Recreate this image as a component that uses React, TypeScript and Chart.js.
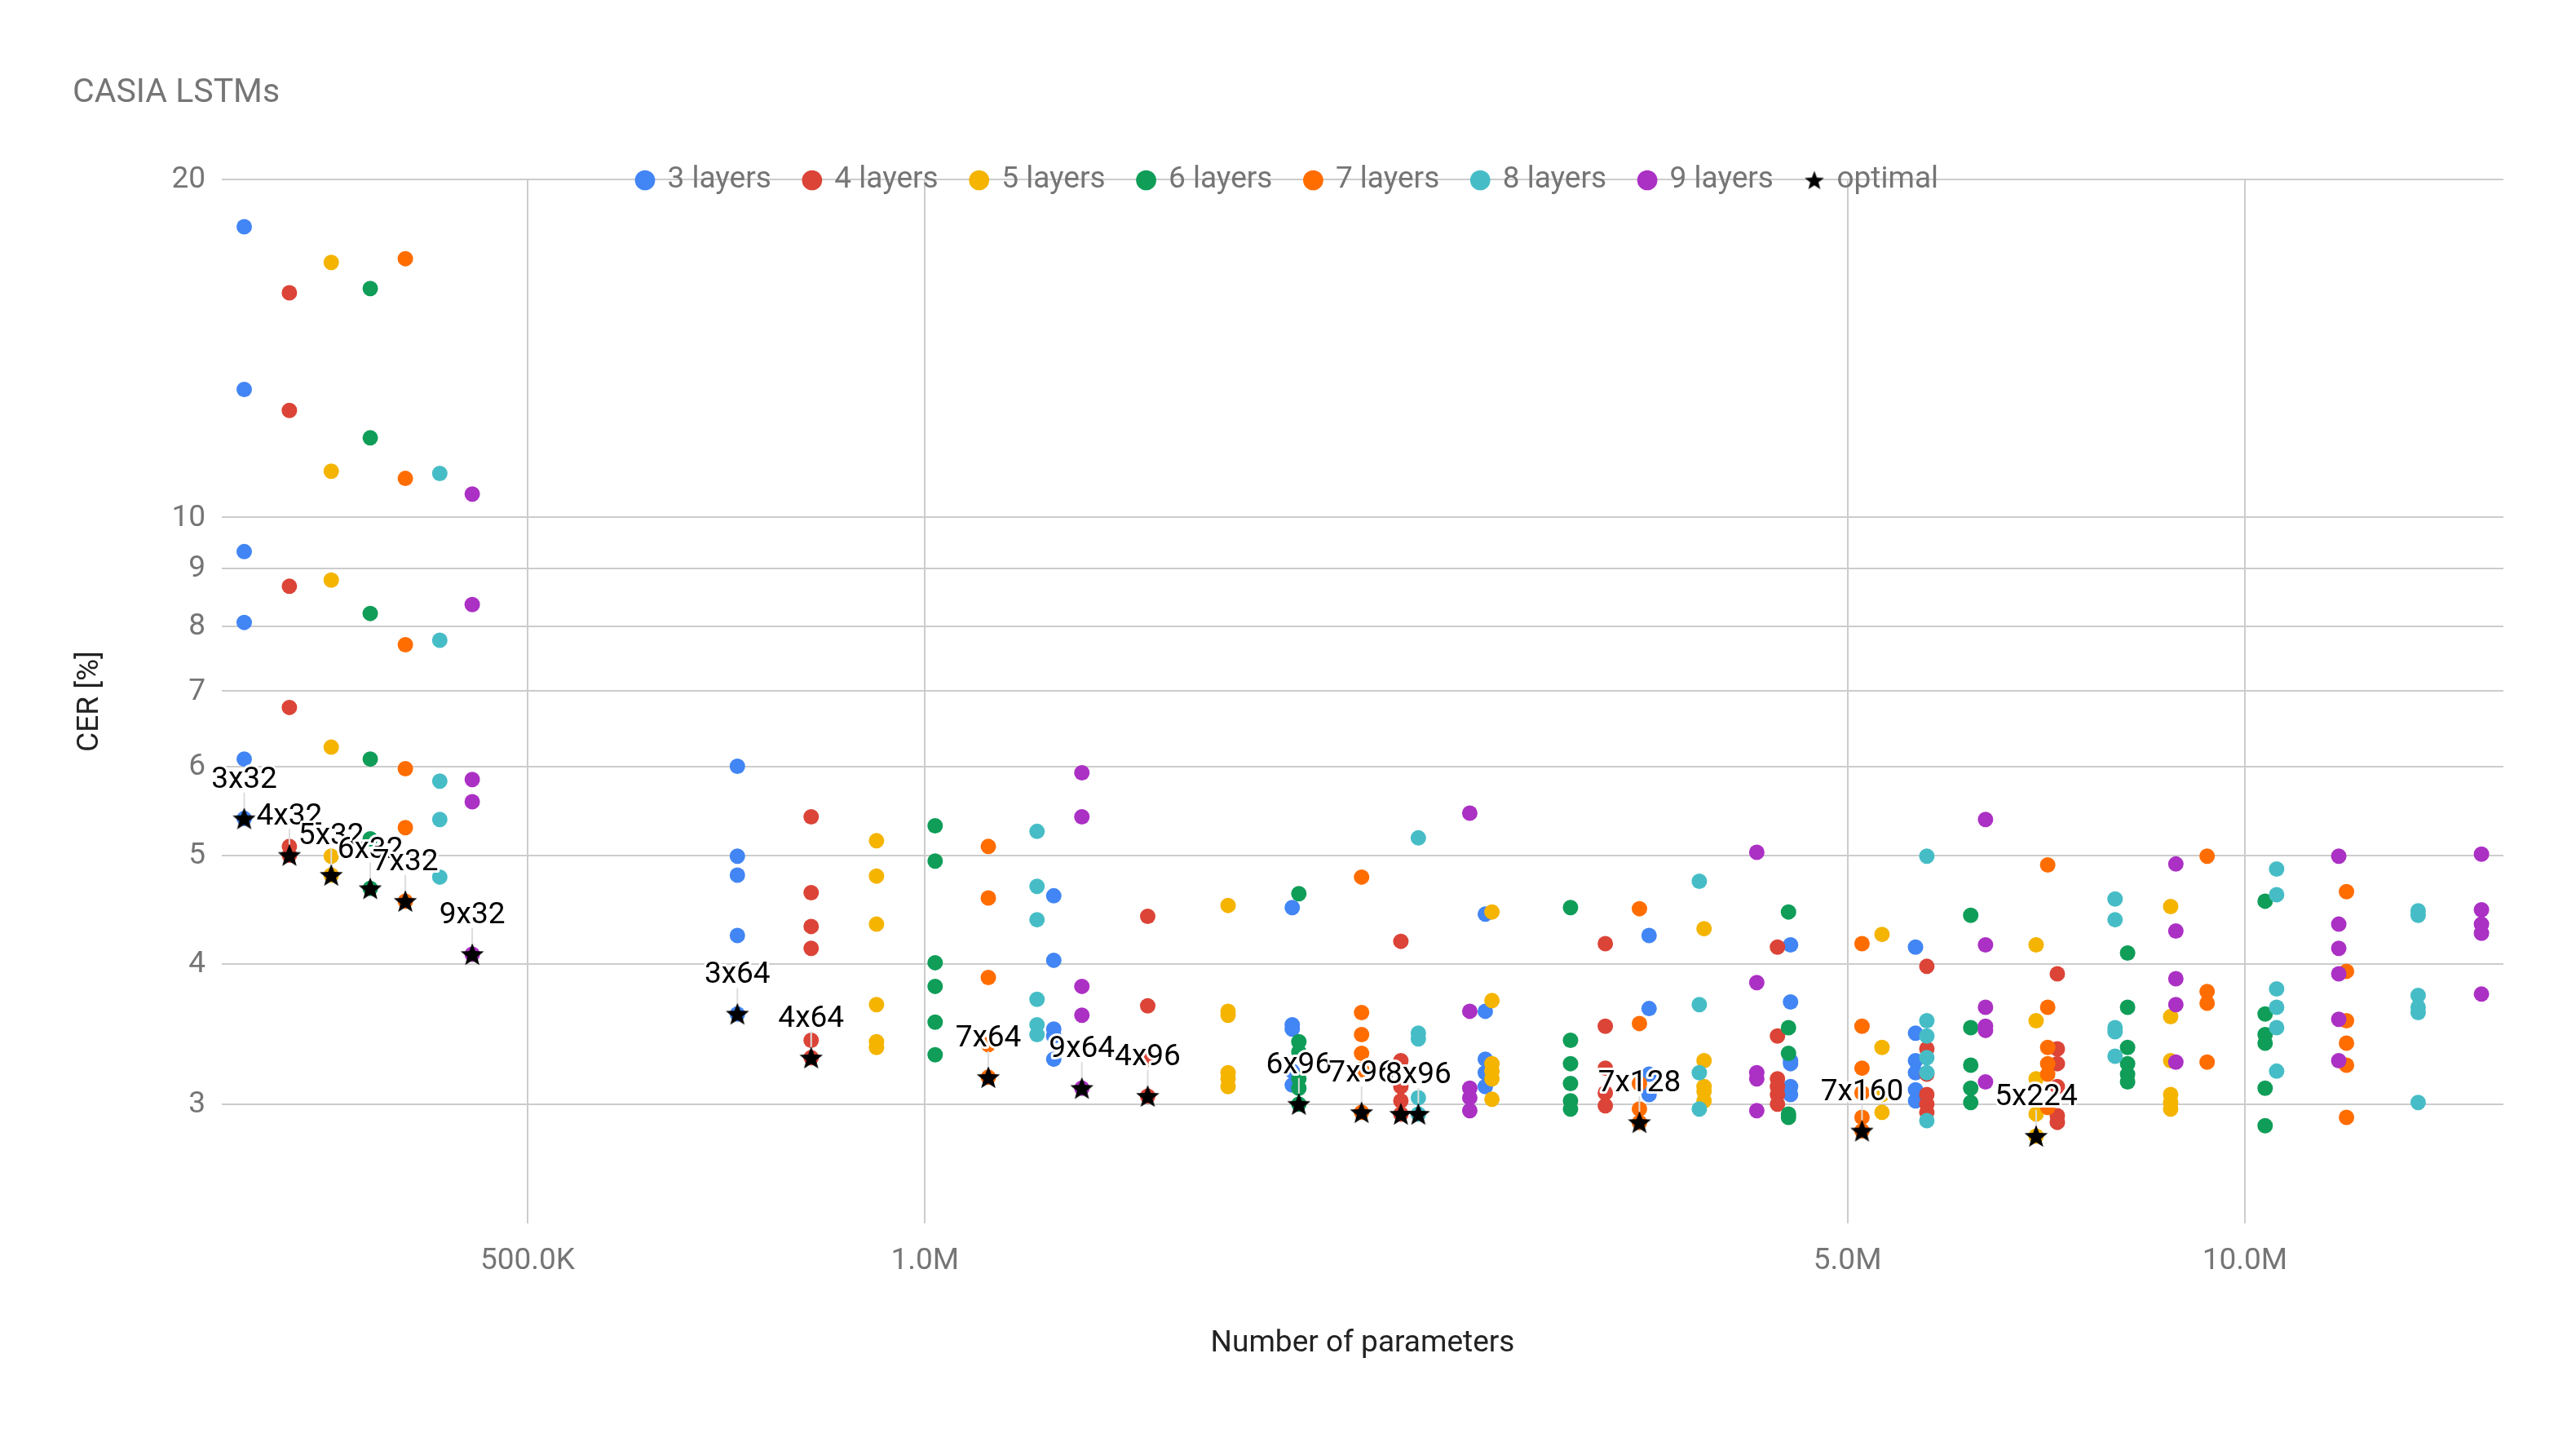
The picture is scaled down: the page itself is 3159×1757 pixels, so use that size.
import React, { useEffect, useRef } from 'react';
import { Chart, registerables } from 'chart.js';

Chart.register(...registerables);

type Column = [number, number[]];

const chartTitle = 'CASIA LSTMs';
const xAxisTitle = 'Number of parameters';
const yAxisTitle = 'CER [%]';

const seriesLabels = ['3 layers', '4 layers', '5 layers', '6 layers', '7 layers', '8 layers', '9 layers'];
const seriesColors = ['#4285F4', '#DB4437', '#F4B400', '#0F9D58', '#FF6D01', '#46BDC6', '#AB30C4'];

// [number of parameters, CER values of the runs]
const threeLayers: Column[] = [
  [305000, [18.15, 13.0, 9.32, 8.06, 6.09, 5.39]],
  [721000, [6.0, 4.99, 4.8, 4.24, 3.61]],
  [1252000, [4.6, 4.03, 3.5, 3.45, 3.29]],
  [1898000, [4.49, 3.53, 3.5, 3.21, 3.12]],
  [2658000, [4.43, 3.63, 3.29, 3.2, 3.11]],
  [3537000, [4.24, 3.65, 3.19, 3.06]],
  [4527000, [4.16, 3.7, 3.28, 3.26, 3.11, 3.06]],
  [5630000, [4.14, 3.47, 3.28, 3.2, 3.09, 3.02]],
];
const fourLayers: Column[] = [
  [330000, [15.85, 12.45, 8.68, 6.77, 5.09, 5.0]],
  [820000, [5.41, 4.63, 4.32, 4.13, 3.42, 3.3]],
  [1475000, [4.41, 3.67, 3.29, 3.05]],
  [2294000, [4.19, 3.28, 3.11, 3.02, 2.94]],
  [3277000, [4.17, 3.52, 3.23, 3.07, 2.99]],
  [4425000, [4.14, 3.45, 3.16, 3.11, 3.06, 3.0]],
  [5742000, [3.98, 3.36, 3.19, 3.06, 3.0, 2.95]],
  [7210000, [3.92, 3.36, 3.26, 3.11, 2.93, 2.89]],
];
const fiveLayers: Column[] = [
  [355000, [16.87, 10.99, 8.79, 6.24, 4.99, 4.8]],
  [919000, [5.15, 4.79, 4.34, 3.68, 3.41, 3.37]],
  [1697000, [4.51, 3.63, 3.6, 3.2, 3.16, 3.11]],
  [2689000, [4.45, 3.71, 3.26, 3.21, 3.16, 3.03]],
  [3893000, [4.3, 3.28, 3.11, 3.08, 3.02]],
  [5310000, [4.25, 3.37, 3.06, 2.95]],
  [6948000, [4.16, 3.56, 3.16, 2.94, 2.81]],
  [8786000, [4.5, 3.59, 3.28, 3.06, 3.01, 2.97]],
];
const sixLayers: Column[] = [
  [380000, [15.99, 11.77, 8.21, 6.09, 5.17, 4.67]],
  [1018000, [5.31, 4.94, 4.01, 3.82, 3.55, 3.32]],
  [1920000, [4.62, 3.41, 3.34, 3.16, 3.1, 3.0]],
  [3084000, [4.49, 3.42, 3.26, 3.13, 3.02, 2.97]],
  [4511000, [4.45, 3.51, 3.33, 2.94, 2.92]],
  [6199000, [4.42, 3.51, 3.25, 3.1, 3.01]],
  [8150000, [4.09, 3.66, 3.37, 3.26, 3.19, 3.14]],
  [10360000, [4.55, 3.61, 3.46, 3.4, 3.1, 2.87]],
];
const sevenLayers: Column[] = [
  [404000, [17.0, 10.83, 7.7, 5.97, 5.29, 4.55]],
  [1117000, [5.09, 4.58, 3.89, 3.39, 3.17]],
  [2142000, [4.78, 3.62, 3.46, 3.33, 3.22, 2.95]],
  [3478000, [4.48, 3.54, 3.13, 2.97, 2.89]],
  [5128000, [4.17, 3.52, 3.23, 3.07, 2.92, 2.84]],
  [7090000, [4.9, 3.66, 3.37, 3.26, 3.19, 2.98]],
  [9363000, [4.99, 3.78, 3.69, 3.27]],
  [11940000, [4.64, 3.94, 3.56, 3.4, 3.25, 2.92]],
];
const eightLayers: Column[] = [
  [429000, [10.94, 7.77, 5.82, 5.38, 4.78]],
  [1216000, [5.25, 4.69, 4.38, 3.72, 3.53, 3.46]],
  [2365000, [5.18, 3.47, 3.43, 3.04, 2.94]],
  [3861000, [4.74, 3.68, 3.2, 2.97]],
  [5742000, [4.99, 3.56, 3.45, 3.3, 3.2, 2.9]],
  [7974000, [4.57, 4.38, 3.51, 3.48, 3.31]],
  [10570000, [4.86, 4.61, 3.8, 3.66, 3.51, 3.21]],
  [13530000, [4.46, 4.42, 3.75, 3.66, 3.62, 3.01]],
];
const nineLayers: Column[] = [
  [454000, [10.49, 8.36, 5.84, 5.58, 4.08]],
  [1315000, [5.92, 5.41, 3.82, 3.6, 3.1]],
  [2587000, [5.45, 3.63, 3.1, 3.04, 2.96]],
  [4268000, [5.03, 3.85, 3.2, 3.16, 2.96]],
  [6361000, [5.38, 4.16, 3.66, 3.52, 3.49, 3.14]],
  [8866000, [4.91, 4.28, 3.88, 3.68, 3.27]],
  [11780000, [4.99, 4.34, 4.13, 3.92, 3.57, 3.28]],
  [15110000, [5.01, 4.47, 4.34, 4.26, 3.76]],
];

const layerSeries = [threeLayers, fourLayers, fiveLayers, sixLayers, sevenLayers, eightLayers, nineLayers];

const optimalLabel = 'optimal';
const optimalParams = [
  305000, 330000, 355000, 380000, 404000, 454000, 721000, 820000, 1117000, 1315000,
  1475000, 1920000, 2142000, 2294000, 2365000, 3478000, 5128000, 6948000,
];
const optimalCER = [
  5.39, 5.0, 4.8, 4.67, 4.55, 4.08, 3.61, 3.3, 3.17, 3.1,
  3.05, 3.0, 2.95, 2.94, 2.94, 2.89, 2.84, 2.81,
];
const optimalNames = [
  '3x32', '4x32', '5x32', '6x32', '7x32', '9x32', '3x64', '4x64', '7x64', '9x64',
  '4x96', '6x96', '7x96', '', '8x96', '7x128', '7x160', '5x224',
];

const xTickValues = [500000, 1000000, 5000000, 10000000];
const xTickLabels = ['500.0K', '1.0M', '5.0M', '10.0M'];
const yTickValues = [3, 4, 5, 6, 7, 8, 9, 10, 20];
const xAxisRange = [293300, 15700000];
const yAxisRange = [2.349, 20];

const W = 3159;
const H = 1757;
const FONT = 'Roboto, "Noto Sans", sans-serif';
const FS = 37;

function makeStar(R: number, color: string): HTMLCanvasElement {
  const c = document.createElement('canvas');
  const size = Math.ceil(R * 2 + 2);
  c.width = size;
  c.height = size;
  const ctx = c.getContext('2d')!;
  const cx = size / 2;
  const cy = size / 2 + R * 0.08;
  const r = R * 0.42;
  ctx.beginPath();
  for (let i = 0; i < 10; i++) {
    const rad = i % 2 === 0 ? R : r;
    const a = -Math.PI / 2 + (i * Math.PI) / 5;
    const px = cx + rad * Math.cos(a);
    const py = cy + rad * Math.sin(a);
    if (i === 0) ctx.moveTo(px, py);
    else ctx.lineTo(px, py);
  }
  ctx.closePath();
  ctx.fillStyle = color;
  ctx.fill();
  return c;
}

export default function App() {
  const ref = useRef<HTMLCanvasElement>(null);

  useEffect(() => {
    const canvas = ref.current;
    if (!canvas) return;
    const dataStar = makeStar(15, '#000000');
    const legendStar = makeStar(12.5, '#000000');
    const optimalIndex = layerSeries.length;

    const datasets: any[] = layerSeries.map((cols, i) => ({
      label: seriesLabels[i],
      data: cols.flatMap(([x, ys]) => ys.map((y) => ({ x, y }))),
      backgroundColor: seriesColors[i],
      borderColor: seriesColors[i],
      borderWidth: 0,
      pointRadius: 9.5,
      pointHoverRadius: 9.5,
      pointStyle: 'circle',
      order: layerSeries.length - i,
    }));
    datasets.push({
      label: optimalLabel,
      data: optimalParams.map((x, i) => ({ x, y: optimalCER[i] })),
      backgroundColor: '#000000',
      borderColor: '#000000',
      borderWidth: 0,
      pointRadius: 15,
      pointHoverRadius: 15,
      pointStyle: dataStar,
      order: 0,
    });

    const legendOverlay = {
      id: 'legendOverlay',
      afterLayout(chart: any) {
        const lg = chart.legend;
        if (!lg) return;
        const pad = lg.options.labels.padding;
        const h = pad * 2 + FS + 10;
        lg.top = chart.chartArea.top - pad - FS / 2 + 1;
        lg.bottom = lg.top + h;
        lg.height = h;
      },
    };

    const annotations = {
      id: 'optimalAnnotations',
      afterDatasetsDraw(chart: any) {
        const meta = chart.getDatasetMeta(optimalIndex);
        const ctx = chart.ctx;
        ctx.save();
        ctx.font = `${FS}px ${FONT}`;
        ctx.textAlign = 'center';
        ctx.textBaseline = 'middle';
        ctx.lineJoin = 'round';
        meta.data.forEach((el: any, i: number) => {
          const label = optimalNames[i];
          if (!label) return;
          const x = el.x;
          const y = el.y;
          ctx.strokeStyle = '#dddddd';
          ctx.lineWidth = 2;
          ctx.beginPath();
          ctx.moveTo(x, y - 13);
          ctx.lineTo(x, y - 32);
          ctx.stroke();
          ctx.strokeStyle = '#ffffff';
          ctx.lineWidth = 6;
          ctx.strokeText(label, x, y - 47);
          ctx.fillStyle = '#000000';
          ctx.fillText(label, x, y - 47);
        });
        ctx.restore();
      },
    };

    const chart = new Chart(canvas, {
      type: 'scatter',
      data: { datasets },
      options: {
        animation: false,
        responsive: false,
        devicePixelRatio: 1,
        events: [],
        layout: { padding: { left: 89, right: 89, top: 0, bottom: 0 } },
        font: { family: FONT },
        plugins: {
          tooltip: { enabled: false },
          title: {
            display: true,
            text: chartTitle,
            align: 'start',
            color: '#757575',
            font: { family: FONT, size: 41, weight: 'normal' },
            padding: { top: 90, bottom: 79.8 },
          },
          legend: {
            display: true,
            position: 'top',
            align: 'center',
            maxHeight: 1,
            labels: {
              usePointStyle: true,
              boxWidth: 18,
              boxHeight: 17.5,
              padding: 41,
              color: '#757575',
              font: { family: FONT, size: FS },
              generateLabels(ch: any) {
                const items = (Chart as any).defaults.plugins.legend.labels.generateLabels(ch);
                items.sort((a: any, b: any) => a.datasetIndex - b.datasetIndex);
                items.forEach((it: any) => {
                  if (it.datasetIndex === optimalIndex) it.pointStyle = legendStar;
                  it.lineWidth = 0;
                });
                return items;
              },
            },
          },
        },
        scales: {
          x: {
            type: 'logarithmic',
            position: 'bottom',
            min: xAxisRange[0],
            max: xAxisRange[1],
            bounds: 'data',
            afterBuildTicks(scale: any) {
              scale.ticks = xTickValues.map((v) => ({ value: v }));
            },
            afterFit(scale: any) {
              scale.height = 257;
            },
            ticks: {
              autoSkip: false,
              maxRotation: 0,
              padding: 25,
              color: '#757575',
              font: { family: FONT, size: FS },
              callback: (value: any) => {
                const idx = xTickValues.indexOf(Number(value));
                return idx >= 0 ? xTickLabels[idx] : '';
              },
            },
            grid: { color: '#cccccc', lineWidth: 2, drawTicks: false },
            border: { display: false },
            title: {
              display: true,
              text: xAxisTitle,
              color: '#222222',
              font: { family: FONT, size: FS },
              padding: { top: 0, bottom: 87 },
            },
          },
          y: {
            type: 'logarithmic',
            position: 'left',
            min: yAxisRange[0],
            max: yAxisRange[1],
            bounds: 'data',
            afterBuildTicks(scale: any) {
              scale.ticks = yTickValues.map((v) => ({ value: v }));
            },
            afterFit(scale: any) {
              scale.width = 183;
            },
            ticks: {
              autoSkip: false,
              padding: 20,
              labelOffset: 1,
              color: '#757575',
              font: { family: FONT, size: FS },
              callback: (value: any) => String(value),
            },
            grid: { color: '#cccccc', lineWidth: 2, drawTicks: false },
            border: { display: false },
            title: {
              display: true,
              text: yAxisTitle,
              color: '#222222',
              font: { family: FONT, size: FS },
              padding: { top: 0, bottom: 0 },
            },
          },
        },
      } as any,
      plugins: [legendOverlay, annotations],
    });

    return () => {
      chart.destroy();
    };
  }, []);

  return (
    <canvas
      ref={ref}
      width={W}
      height={H}
      style={{ position: 'absolute', left: 0, top: 0, display: 'block', width: W, height: H }}
    />
  );
}
